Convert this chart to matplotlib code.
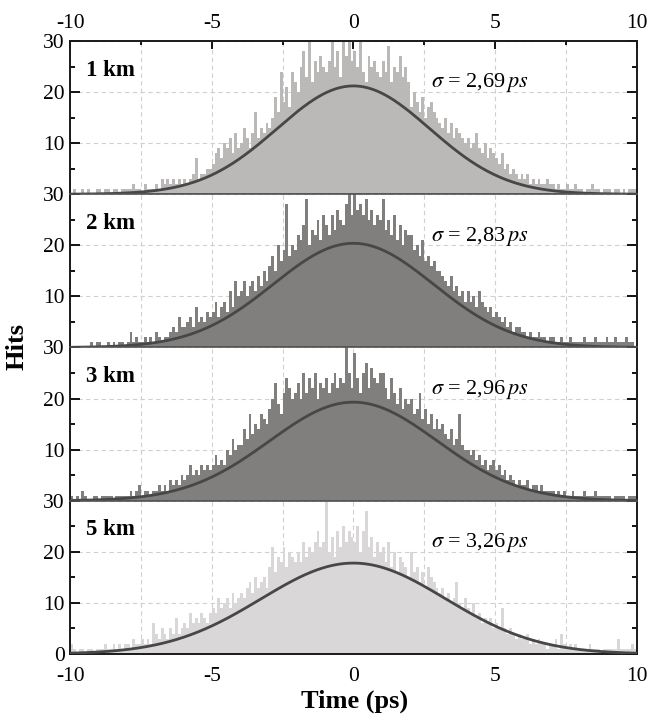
import numpy as np
import matplotlib
matplotlib.use("Agg")
import matplotlib.pyplot as plt
from matplotlib.ticker import MultipleLocator

plt.rcParams['font.family'] = ['Liberation Serif', 'DejaVu Serif']
plt.rcParams['mathtext.fontset'] = 'stix'
plt.rcParams['axes.unicode_minus'] = False

# histogram bins: 0.1 ps wide, from -10 to 10 ps
bin_width = 0.1
bin_left = np.round(np.arange(-10, 10, bin_width), 2)

labels = ['1 km', '2 km', '3 km', '5 km']
sigmas = [2.69, 2.83, 2.96, 3.26]
sigma_text = ['2,69', '2,83', '2,96', '3,26']
fit_peak = [21.2, 20.4, 19.3, 17.8]
fill_colors = ['#bbb8b8', '#817e7e', '#817e7e', '#d9d7d7']

hits_1km = [
    0, 1, 0, 0, 1, 0, 1, 0, 0, 1,
    1, 0, 1, 1, 0, 1, 1, 0, 1, 1,
    1, 1, 2, 1, 1, 0, 2, 1, 1, 1,
    2, 1, 3, 2, 3, 2, 3, 2, 3, 2,
    3, 2, 3, 4, 7, 3, 4, 4, 5, 5,
    6, 8, 9, 7, 10, 9, 11, 8, 12, 9,
    10, 13, 11, 9, 12, 16, 11, 13, 12, 14,
    13, 15, 19, 16, 24, 18, 21, 17, 24, 22,
    20, 25, 28, 23, 30, 22, 26, 24, 27, 25,
    24, 26, 30, 25, 28, 23, 30, 27, 30, 26,
    28, 25, 30, 24, 22, 27, 25, 26, 24, 23,
    26, 24, 29, 22, 25, 24, 27, 23, 25, 22,
    17, 20, 18, 16, 19, 15, 17, 18, 16, 15,
    14, 13, 15, 12, 14, 11, 13, 12, 11, 10,
    11, 9, 10, 12, 9, 8, 10, 7, 9, 8,
    7, 6, 8, 5, 6, 4, 5, 4, 3, 4,
    3, 4, 2, 3, 2, 3, 2, 2, 3, 2,
    2, 1, 2, 1, 1, 2, 1, 1, 2, 1,
    1, 0, 1, 1, 2, 1, 1, 0, 1, 1,
    1, 0, 1, 1, 0, 1, 0, 1, 1, 1,
]

hits_2km = [
    0, 0, 0, 0, 0, 0, 0, 1, 0, 1,
    1, 0, 0, 1, 0, 1, 0, 1, 1, 0,
    1, 3, 1, 2, 1, 1, 2, 1, 2, 1,
    3, 2, 1, 2, 2, 3, 4, 3, 6, 4,
    4, 5, 6, 4, 8, 5, 6, 5, 7, 6,
    7, 9, 6, 8, 9, 7, 11, 8, 13, 10,
    11, 13, 10, 12, 13, 11, 14, 12, 15, 13,
    16, 18, 15, 20, 17, 19, 28, 18, 20, 19,
    22, 21, 24, 29, 20, 23, 22, 25, 21, 26,
    24, 22, 26, 23, 27, 25, 24, 28, 30, 26,
    30, 27, 28, 26, 29, 25, 27, 24, 26, 25,
    29, 23, 25, 22, 26, 21, 24, 20, 23, 22,
    22, 19, 20, 18, 21, 17, 18, 16, 17, 15,
    15, 14, 13, 12, 14, 11, 12, 10, 11, 9,
    11, 9, 10, 8, 11, 9, 8, 7, 8, 6,
    7, 6, 5, 6, 4, 5, 3, 4, 4, 3,
    3, 2, 3, 2, 2, 3, 2, 2, 1, 2,
    2, 1, 1, 2, 1, 1, 2, 1, 1, 1,
    1, 2, 1, 1, 1, 2, 1, 1, 1, 2,
    1, 1, 2, 1, 1, 1, 2, 1, 1, 0,
]

hits_3km = [
    1, 0, 1, 0, 2, 1, 0, 0, 1, 1,
    0, 1, 1, 1, 1, 0, 1, 1, 1, 1,
    1, 2, 1, 2, 3, 1, 2, 2, 1, 2,
    2, 3, 2, 3, 2, 4, 3, 4, 3, 5,
    4, 5, 7, 5, 6, 5, 7, 6, 7, 6,
    7, 9, 7, 8, 7, 10, 9, 12, 10, 11,
    11, 14, 12, 17, 13, 15, 14, 17, 16, 15,
    18, 20, 23, 19, 17, 21, 24, 22, 20, 21,
    23, 20, 25, 21, 24, 22, 25, 20, 23, 22,
    24, 21, 23, 25, 22, 24, 23, 30, 25, 22,
    29, 24, 21, 25, 27, 22, 26, 24, 23, 25,
    25, 22, 20, 24, 21, 19, 22, 18, 20, 19,
    20, 17, 18, 21, 16, 18, 15, 17, 14, 16,
    14, 15, 13, 12, 14, 11, 12, 17, 11, 10,
    10, 9, 10, 8, 9, 7, 8, 6, 7, 8,
    6, 7, 5, 6, 4, 5, 4, 3, 4, 3,
    3, 4, 2, 3, 3, 2, 3, 2, 2, 2,
    2, 1, 2, 1, 2, 1, 1, 2, 1, 1,
    1, 2, 1, 1, 1, 2, 1, 1, 1, 1,
    1, 0, 1, 1, 1, 1, 0, 1, 1, 1,
]

hits_5km = [
    2, 1, 0, 1, 1, 0, 1, 1, 0, 1,
    1, 1, 2, 1, 1, 2, 1, 2, 1, 2,
    2, 1, 3, 2, 2, 3, 2, 3, 2, 6,
    4, 3, 5, 4, 3, 5, 4, 7, 4, 5,
    6, 5, 8, 6, 7, 6, 8, 7, 6, 8,
    9, 8, 11, 9, 10, 11, 9, 12, 10, 11,
    12, 11, 13, 14, 12, 15, 13, 14, 15, 13,
    17, 21, 16, 19, 18, 21, 17, 20, 19, 18,
    20, 18, 22, 19, 21, 20, 22, 24, 21, 22,
    30, 20, 23, 19, 24, 21, 25, 22, 24, 23,
    22, 25, 20, 24, 28, 21, 23, 19, 22, 20,
    21, 18, 22, 17, 20, 16, 19, 18, 17, 15,
    20, 16, 17, 14, 16, 13, 17, 15, 14, 13,
    12, 13, 11, 12, 10, 11, 14, 10, 9, 11,
    9, 8, 10, 7, 8, 6, 7, 6, 7, 5,
    6, 5, 9, 5, 4, 5, 4, 3, 4, 3,
    3, 4, 2, 3, 2, 3, 2, 2, 1, 2,
    2, 3, 1, 4, 2, 1, 2, 1, 2, 1,
    1, 1, 1, 2, 1, 1, 1, 0, 1, 1,
    1, 1, 1, 3, 1, 1, 1, 1, 2, 1,
]

all_hits = [hits_1km, hits_2km, hits_3km, hits_5km]

fig = plt.figure(figsize=(6.49, 7.15), dpi=100)
axes = fig.subplots(4, 1, sharex=True)
fig.subplots_adjust(left=0.108, right=0.981, top=0.9427, bottom=0.0853, hspace=0)

t = np.linspace(-10, 10, 400)

for i, ax in enumerate(axes):
    ax.set_axisbelow(True)
    ax.bar(bin_left, all_hits[i], width=bin_width, align='edge',
           color=fill_colors[i], linewidth=0, zorder=2)
    # gaussian fit curve
    fit = fit_peak[i] * np.exp(-t**2 / (2 * sigmas[i]**2))
    ax.plot(t, fit, color='#474747', lw=2.0, zorder=3)

    ax.set_xlim(-10, 10)
    ax.set_ylim(0, 30)
    ax.xaxis.set_major_locator(MultipleLocator(5))
    ax.xaxis.set_minor_locator(MultipleLocator(2.5))
    ax.yaxis.set_major_locator(MultipleLocator(10))
    ax.yaxis.set_minor_locator(MultipleLocator(5))

    ax.grid(True, axis='x', which='both', color='#d0d0d0', lw=0.8, ls=(0, (4, 3)))
    ax.grid(True, axis='y', which='major', color='#d0d0d0', lw=0.8, ls=(0, (4, 3)))

    ax.tick_params(axis='y', which='major', direction='in', length=7, width=1.3,
                   left=True, right=True, labelsize=15.5, pad=4)
    ax.tick_params(axis='y', which='minor', direction='in', length=3.5, width=1.3,
                   left=True, right=True)
    ax.tick_params(axis='x', which='both', bottom=False, top=False,
                   labelbottom=False, labeltop=False)

    for s in ax.spines.values():
        s.set_linewidth(1.4)
        s.set_color('#1a1a1a')
    for s in ['top', 'bottom']:
        if (s == 'top' and i > 0) or (s == 'bottom' and i < 3):
            ax.spines[s].set_color('#555555')
            ax.spines[s].set_linewidth(1.2)

    if i < 3:
        ax.set_yticks([10, 20, 30])
    else:
        ax.set_yticks([0, 10, 20, 30])
    ax.set_yticklabels([str(v) for v in ax.get_yticks().astype(int)])

    ax.text(-9.45, 24.3, labels[i], fontsize=16.5, fontweight='bold',
            va='center', ha='left', zorder=5)
    ax.text(2.75, 21.8, r'$\sigma$ = ' + sigma_text[i] + r'$\,ps$', fontsize=16,
            va='center', ha='left', zorder=5)

axes[0].tick_params(axis='x', which='major', top=True, direction='in', length=6,
                    width=1.3, labeltop=True, labelsize=15.5, pad=6)
axes[0].tick_params(axis='x', which='minor', top=True, direction='in', length=3,
                    width=1.3)
axes[3].tick_params(axis='x', which='major', labelbottom=True, labelsize=15.5, pad=6)

fig.text(0.026, 0.516, 'Hits', rotation=90, fontsize=19, fontweight='bold',
         va='center', ha='center')
fig.text(0.547, 0.019, 'Time (ps)', fontsize=19, fontweight='bold',
         va='center', ha='center')

fig.savefig('out.png', dpi=100)
